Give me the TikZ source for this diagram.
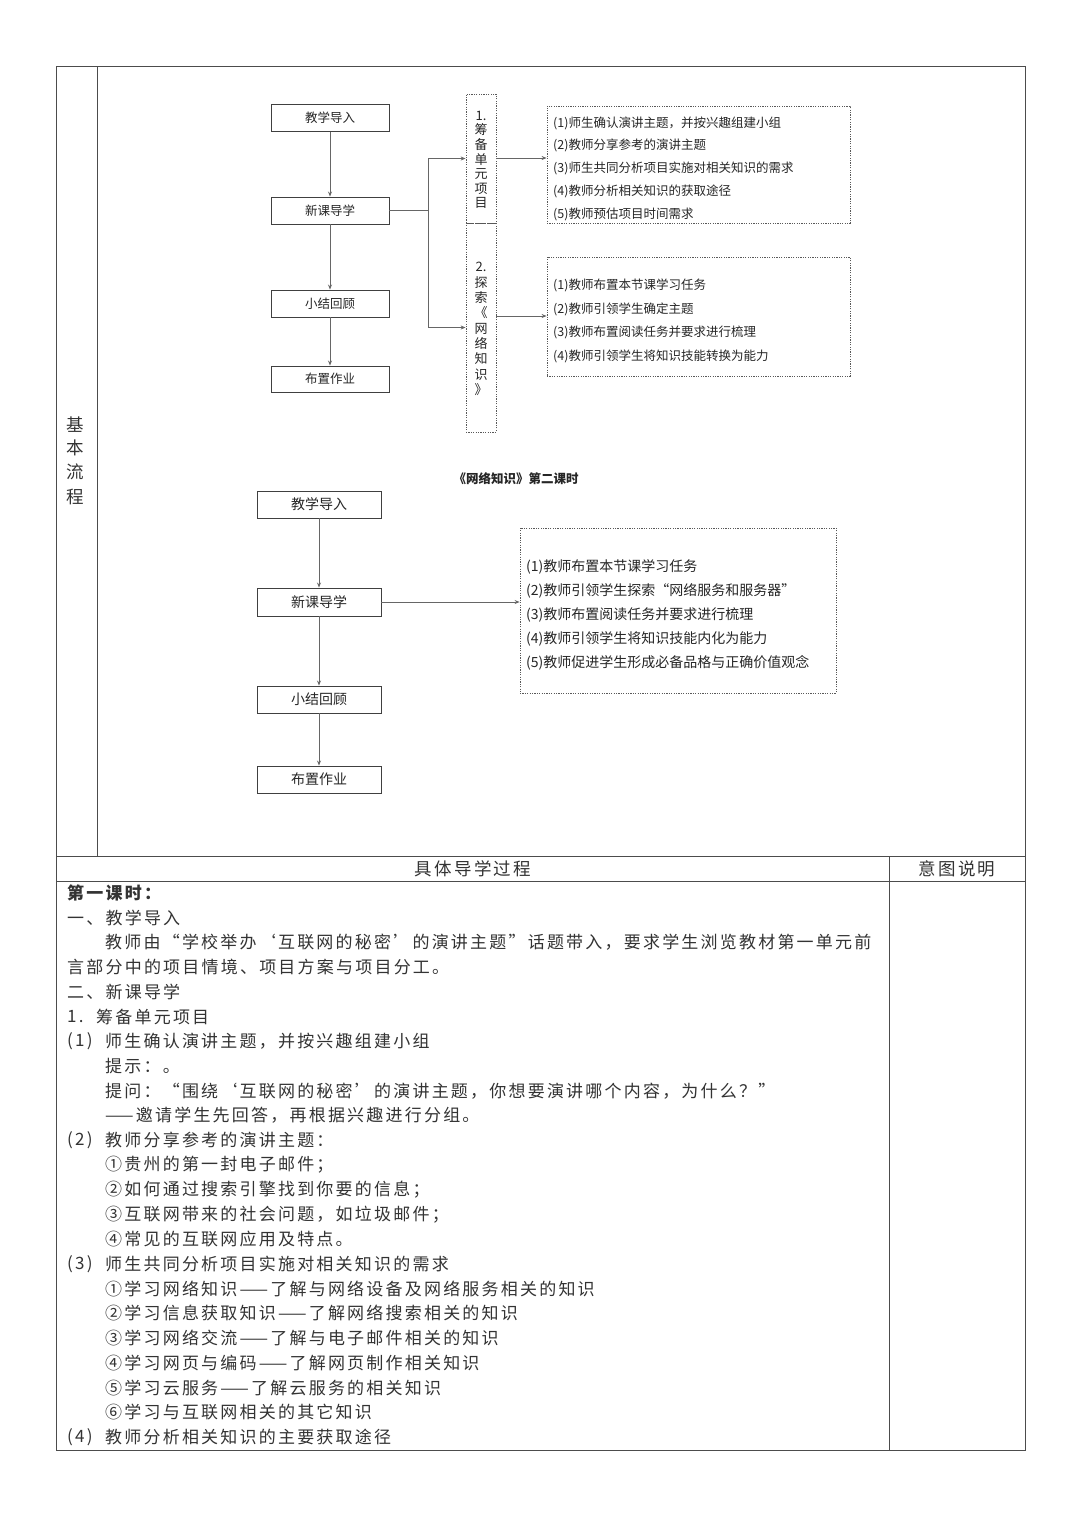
\documentclass[tikz,border=0pt]{standalone}
\usepackage{fontspec}
\setmainfont{Noto Sans CJK SC}
\newfontfamily\cjk{Noto Sans CJK SC}
\newfontfamily\cjkls[LetterSpace=13]{Noto Sans CJK SC}
\usetikzlibrary{arrows.meta}
\begin{document}
\begin{tikzpicture}[x=1pt,y=-1pt,
  tline/.style={draw=black!70,line width=1pt},
  fbox/.style={draw=black!75,line width=0.9pt,minimum width=118pt,minimum height=27pt,inner sep=0pt,font=\cjk\fontsize{12.5}{13}\selectfont,text=black!85},
  gbox/.style={fbox,minimum width=124pt,font=\cjk\fontsize{14}{15}\selectfont},
  dbox/.style={draw=black!65,line width=0.8pt,dash pattern=on 1.2pt off 1.2pt,inner sep=0pt},
  arr/.style={draw=black!60,line width=0.8pt,-{Stealth[length=5pt,width=4pt]}},
  ln/.style={draw=black!60,line width=0.8pt},
  itm/.style={anchor=west,inner sep=0pt,font=\cjk\fontsize{12.5}{13}\selectfont,text=black!85},
  itmb/.style={itm,font=\cjk\fontsize{14}{15}\selectfont},
  body/.style={anchor=west,inner sep=0pt,font=\cjkls\fontsize{17}{17}\selectfont,text=black!80},
  head/.style={inner sep=0pt,font=\cjkls\fontsize{17.5}{18}\selectfont,text=black!80}
]
\fill[white] (0,0) rectangle (1080,1527);
\useasboundingbox (0,0) rectangle (1080,1527);

% ---- table frame ----
\draw[tline] (56,66) rectangle (1025,1450);
\draw[tline] (97,66) -- (97,856);
\draw[tline] (56,856) -- (1025,856);
\draw[tline] (56,881) -- (1025,881);
\draw[tline] (889,856) -- (889,1450);

% left label
\node[head] (lb1) at (75,425) {基};
\node[head] (lb2) at (75,448) {本};
\node[head] (lb3) at (75,472) {流};
\node[head] (lb4) at (75,497) {程};

% ---- top flowchart ----
\node[fbox] (a1) at (330,118) {教学导入};
\node[fbox] (a2) at (330,210.5) {新课导学};
\node[fbox] (a3) at (330,303.5) {小结回顾};
\node[fbox,minimum height=26pt] (a4) at (330,379) {布置作业};
\draw[arr] (a1) -- (a2);
\draw[arr] (a2) -- (a3);
\draw[arr] (a3) -- (a4);

\node[dbox,minimum width=30pt,minimum height=129pt] (v1) at (481,158.5) {};
\node[dbox,minimum width=30pt,minimum height=209pt] (v2) at (481,327.5) {};
\node[align=center,inner sep=0pt,font=\cjk\fontsize{13}{14.6}\selectfont,text=black!85] (v1t) at (481,160) {1.\\筹\\备\\单\\元\\项\\目};
\node[align=center,inner sep=0pt,font=\cjk\fontsize{13}{15.3}\selectfont,text=black!85] (v2t) at (481,329) {2.\\探\\索\\《\\网\\络\\知\\识\\》};

\coordinate (j) at (428,210.5);
\draw[ln] (a2.east) -- (j);
\draw[arr] (j) |- (v1.west);
\draw[arr] (j) |- (v2.west);

\node[dbox,minimum width=303pt,minimum height=117pt] (d1) at (698.5,164.5) {};
\node[dbox,minimum width=303pt,minimum height=119pt] (d2) at (698.5,316.5) {};
\coordinate (v1o) at (496,158);
\coordinate (v2o) at (496,316);
\draw[arr] (v1o) -- (v1o -| d1.west);
\draw[arr] (v2o) -- (v2o -| d2.west);

\node[itm] (d1a) at (553,123) {(1)师生确认演讲主题，并按兴趣组建小组};
\node[itm] (d1b) at (553,145.5) {(2)教师分享参考的演讲主题};
\node[itm] (d1c) at (553,168) {(3)师生共同分析项目实施对相关知识的需求};
\node[itm] (d1d) at (553,191) {(4)教师分析相关知识的获取途径};
\node[itm] (d1e) at (553,214) {(5)教师预估项目时间需求};

\node[itm] (d2a) at (553,285) {(1)教师布置本节课学习任务};
\node[itm] (d2b) at (553,309) {(2)教师引领学生确定主题};
\node[itm] (d2c) at (553,332) {(3)教师布置阅读任务并要求进行梳理};
\node[itm] (d2d) at (553,356) {(4)教师引领学生将知识技能转换为能力};

% ---- second lesson ----
\node[inner sep=0pt,font=\cjk\bfseries\fontsize{12.5}{13}\selectfont,text=black!85] (ttl) at (516,479) {《网络知识》第二课时};

\node[gbox] (b1) at (319,504.5) {教学导入};
\node[gbox,minimum height=28pt] (b2) at (319,602) {新课导学};
\node[gbox] (b3) at (319,699.5) {小结回顾};
\node[gbox] (b4) at (319,779.5) {布置作业};
\draw[arr] (b1) -- (b2);
\draw[arr] (b2) -- (b3);
\draw[arr] (b3) -- (b4);

\node[dbox,minimum width=316pt,minimum height=165pt] (d3) at (678,610.5) {};
\draw[arr] (b2.east) -- (b2.east -| d3.west);
\node[itmb] (d3a) at (526,567) {(1)教师布置本节课学习任务};
\node[itmb] (d3b) at (526,591) {(2)教师引领学生探索“网络服务和服务器”};
\node[itmb] (d3c) at (526,615) {(3)教师布置阅读任务并要求进行梳理};
\node[itmb] (d3d) at (526,638.5) {(4)教师引领学生将知识技能内化为能力};
\node[itmb] (d3e) at (526,663) {(5)教师促进学生形成必备品格与正确价值观念};

% ---- table header ----
\node[head] (h1) at (473,869) {具体导学过程};
\node[head] (h2) at (957,869) {意图说明};

% ---- body text ----
\node[body,font=\cjkls\bfseries\fontsize{17}{17}\selectfont] (t0) at (67,893) {第一课时：};
\node[body] (t1) at (67,917.7) {一、教学导入};
\node[body] (t2) at (105,942.5) {教师由“学校举办‘互联网的秘密’的演讲主题”话题带入，要求学生浏览教材第一单元前};
\node[body] (t3) at (67,967.2) {言部分中的项目情境、项目方案与项目分工。};
\node[body] (t4) at (67,991.9) {二、新课导学};
\node[body] (t5n) at (67,1016.7) {1.};
\node[body] (t5) at (96,1016.7) {筹备单元项目};
\node[body] (t6n) at (67,1041.4) {(1)};
\node[body] (t6) at (105,1041.4) {师生确认演讲主题，并按兴趣组建小组};
\node[body] (t7) at (105,1066.1) {提示：。};
\node[body] (t8) at (105,1090.8) {提问：“围绕‘互联网的秘密’的演讲主题，你想要演讲哪个内容，为什么？”};
\node[body] (t9) at (105,1115.6) {——邀请学生先回答，再根据兴趣进行分组。};
\node[body] (t10n) at (67,1140.3) {(2)};
\node[body] (t10) at (105,1140.3) {教师分享参考的演讲主题：};
\node[body] (t11) at (105,1165) {①贵州的第一封电子邮件；};
\node[body] (t12) at (105,1189.8) {②如何通过搜索引擎找到你要的信息；};
\node[body] (t13) at (105,1214.5) {③互联网带来的社会问题，如垃圾邮件；};
\node[body] (t14) at (105,1239.2) {④常见的互联网应用及特点。};
\node[body] (t15n) at (67,1264) {(3)};
\node[body] (t15) at (105,1264) {师生共同分析项目实施对相关知识的需求};
\node[body] (t16) at (105,1288.7) {①学习网络知识——了解与网络设备及网络服务相关的知识};
\node[body] (t17) at (105,1313.4) {②学习信息获取知识——了解网络搜索相关的知识};
\node[body] (t18) at (105,1338.2) {③学习网络交流——了解与电子邮件相关的知识};
\node[body] (t19) at (105,1362.9) {④学习网页与编码——了解网页制作相关知识};
\node[body] (t20) at (105,1387.6) {⑤学习云服务——了解云服务的相关知识};
\node[body] (t21) at (105,1412.3) {⑥学习与互联网相关的其它知识};
\node[body] (t22n) at (67,1437) {(4)};
\node[body] (t22) at (105,1437) {教师分析相关知识的主要获取途径};
\end{tikzpicture}
\end{document}
